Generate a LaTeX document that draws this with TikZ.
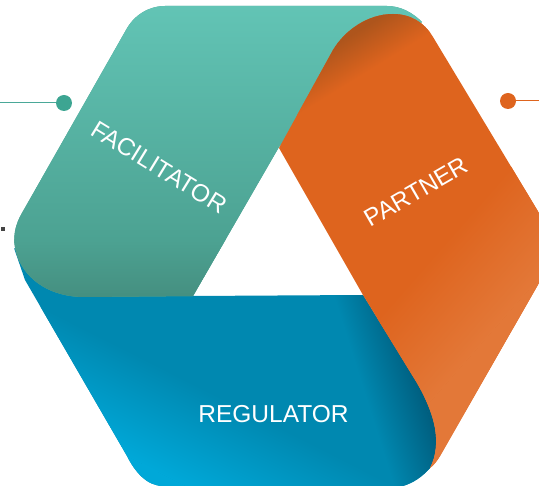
\documentclass[tikz,border=0pt]{standalone}
\usepackage{fontspec}
\setmainfont{Liberation Sans}
\definecolor{gTop}{HTML}{62C4B5}
\definecolor{gMid}{HTML}{4CA292}
\definecolor{gBot}{HTML}{458F80}
\definecolor{oBase}{HTML}{DE641E}
\definecolor{oDark}{HTML}{AE551C}
\definecolor{oLight}{HTML}{E37838}
\definecolor{bBase}{HTML}{0088B0}
\definecolor{bBright}{HTML}{00A8D8}
\definecolor{bDark}{HTML}{005F80}
\definecolor{gDot}{HTML}{3DA592}
\definecolor{gLine}{HTML}{4AA898}
\definecolor{markC}{HTML}{444444}
\tikzset{
  x=1pt,y=-1pt,
  ribbonlabel/.style={text=white,font=\fontsize{24.5}{24.5}\selectfont,inner sep=0pt},
  leaddot/.style={circle,inner sep=0pt,minimum size=16pt},
}
% gradient band: start point, page angle, length, half width, colours
\newcommand\gradband[6]{\path[transform canvas={shift={#1},rotate=#2},left color=#5,right color=#6] (0,-#4) rectangle (#3,#4);\fill[transform canvas={shift={#1},rotate=#2},#6] (#3-0.3,-#4) rectangle (#3+900,#4);}
\newcommand\blueShape{(14,248) -- (25,280) -- (127,456) .. controls (135,472) and (147,486) .. (163,486) -- (403,486) .. controls (413,483) and (422,477) .. (430,468) .. controls (437,455) and (437,440) .. (435,428) .. controls (432,412) and (425,397) .. (417,383) -- (363,295) -- (193,296) -- (80,296) -- cycle}
\newcommand\greenShape{(126,30) .. controls (134,15) and (149,6) .. (165,6) -- (387,6) .. controls (400,6) and (412,12) .. (422,22) -- (400,40) -- (320,100) -- (279,147) -- (193,296) -- (85,297) .. controls (50,297) and (27,280) .. (18,258) .. controls (13,245) and (12,230) .. (22,213) -- cycle}
\newcommand\orangeShape{(279,148) -- (333,50) .. controls (345,30) and (368,14) .. (393,14) .. controls (410,14) and (424,22) .. (433,37) -- (539,213) -- (539,283) -- (440,456) .. controls (437,461) and (434,465) .. (430,468) .. controls (437,455) and (437,440) .. (435,428) .. controls (432,412) and (425,397) .. (417,383) -- (363,295) -- cycle}
\begin{document}
\begin{tikzpicture}
\useasboundingbox (0,0) rectangle (539,486);
% blue ribbon
\fill[bBase] \blueShape;
\begin{scope}
  \clip \blueShape;
  \gradband{(200,387)}{243.2}{95}{500}{bBase}{bBright}
  \gradband{(380,443)}{17.5}{55}{500}{bBase}{bDark}
\end{scope}
% green ribbon
\fill[gMid] \greenShape;
\begin{scope}
  \clip \greenShape;
  \gradband{(0,6)}{-90}{234}{700}{gTop}{gMid}
  \gradband{(0,240)}{-90}{57}{700}{gMid}{gBot}
\end{scope}
% orange ribbon
\fill[oBase] \orangeShape;
\begin{scope}
  \clip \orangeShape;
  \gradband{(370,70)}{121.7}{40}{500}{oBase}{oDark}
  \gradband{(420,270)}{-41.3}{95}{500}{oBase}{oLight}
\end{scope}
% labels
\node[ribbonlabel,rotate=-31.5] (facilitator) at (159,167) {FACILITATOR};
\node[ribbonlabel,rotate=30] (partner) at (416,192) {PARTNER};
\node[ribbonlabel] (regulator) at (273.5,414) {REGULATOR};
% leaders
\node[leaddot,fill=gDot] (gdot) at (64,103) {};
\node[leaddot,fill=oBase] (odot) at (508,101) {};
\coordinate (gend) at (0,103);
\coordinate (oend) at (539,101);
\draw[gLine,line width=1pt] (gend) -- (gdot);
\draw[oBase,line width=1pt] (odot) -- (oend);
\node[fill=markC,minimum size=4pt,inner sep=0pt] (tick) at (3.3,229) {};
\end{tikzpicture}
\end{document}
